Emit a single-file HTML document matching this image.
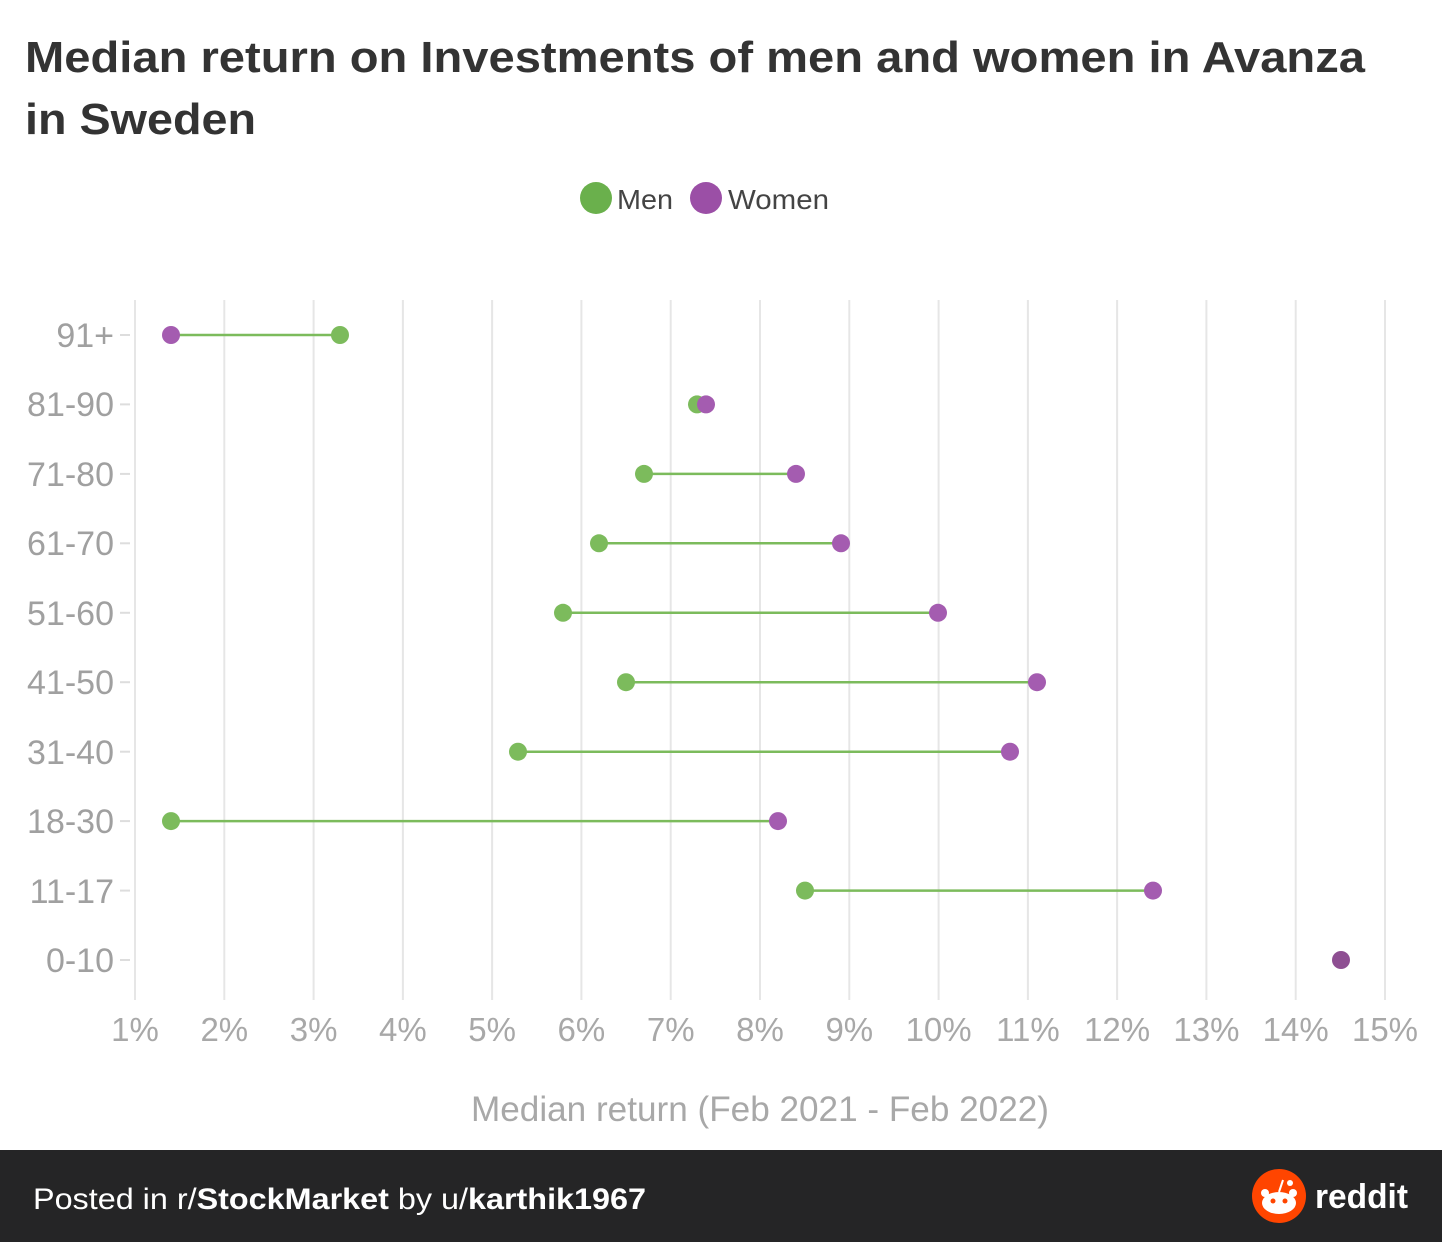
<!DOCTYPE html>
<html><head><meta charset="utf-8"><style>
html,body{margin:0;padding:0;background:#fff;}
svg{display:block;}
</style></head><body>
<svg width="1442" height="1242" viewBox="0 0 1442 1242" xmlns="http://www.w3.org/2000/svg" font-family="Liberation Sans, sans-serif">
<rect width="1442" height="1150" fill="#fff"/>
<text x="25" y="72" font-size="44" font-weight="bold" fill="#333" textLength="1340" lengthAdjust="spacingAndGlyphs">Median return on Investments of men and women in Avanza</text>
<text x="25" y="134" font-size="44" font-weight="bold" fill="#333" textLength="231" lengthAdjust="spacingAndGlyphs">in Sweden</text>
<circle cx="596" cy="198" r="16" fill="#6ab04c"/>
<text x="617" y="209" font-size="28" fill="#444" textLength="56" lengthAdjust="spacingAndGlyphs">Men</text>
<circle cx="706" cy="198" r="16" fill="#9b4fa6"/>
<text x="728" y="209" font-size="28" fill="#444" textLength="101" lengthAdjust="spacingAndGlyphs">Women</text>
<g stroke="#e6e6e6" stroke-width="2">
<line x1="135" y1="300" x2="135" y2="1000"/><line x1="224.3" y1="300" x2="224.3" y2="1000"/><line x1="313.6" y1="300" x2="313.6" y2="1000"/><line x1="402.9" y1="300" x2="402.9" y2="1000"/><line x1="492.1" y1="300" x2="492.1" y2="1000"/><line x1="581.4" y1="300" x2="581.4" y2="1000"/><line x1="670.7" y1="300" x2="670.7" y2="1000"/><line x1="760" y1="300" x2="760" y2="1000"/><line x1="849.3" y1="300" x2="849.3" y2="1000"/><line x1="938.6" y1="300" x2="938.6" y2="1000"/><line x1="1027.9" y1="300" x2="1027.9" y2="1000"/><line x1="1117.1" y1="300" x2="1117.1" y2="1000"/><line x1="1206.4" y1="300" x2="1206.4" y2="1000"/><line x1="1295.7" y1="300" x2="1295.7" y2="1000"/><line x1="1385" y1="300" x2="1385" y2="1000"/>
</g>
<g stroke="#ddd" stroke-width="2">
<line x1="120" y1="335" x2="130" y2="335"/><line x1="120" y1="404.4" x2="130" y2="404.4"/><line x1="120" y1="473.9" x2="130" y2="473.9"/><line x1="120" y1="543.3" x2="130" y2="543.3"/><line x1="120" y1="612.8" x2="130" y2="612.8"/><line x1="120" y1="682.2" x2="130" y2="682.2"/><line x1="120" y1="751.7" x2="130" y2="751.7"/><line x1="120" y1="821.1" x2="130" y2="821.1"/><line x1="120" y1="890.6" x2="130" y2="890.6"/><line x1="120" y1="960" x2="130" y2="960"/>
</g>
<g font-size="34" fill="#a0a0a0" text-anchor="end">
<text x="114" y="347">91+</text><text x="114" y="416">81-90</text><text x="114" y="486">71-80</text><text x="114" y="555">61-70</text><text x="114" y="625">51-60</text><text x="114" y="694">41-50</text><text x="114" y="764">31-40</text><text x="114" y="833">18-30</text><text x="114" y="903">11-17</text><text x="114" y="972">0-10</text>
</g>
<g font-size="33" fill="#a8a8a8" text-anchor="middle">
<text x="135" y="1041">1%</text><text x="224.3" y="1041">2%</text><text x="313.6" y="1041">3%</text><text x="402.9" y="1041">4%</text><text x="492.1" y="1041">5%</text><text x="581.4" y="1041">6%</text><text x="670.7" y="1041">7%</text><text x="760" y="1041">8%</text><text x="849.3" y="1041">9%</text><text x="938.6" y="1041">10%</text><text x="1027.9" y="1041">11%</text><text x="1117.1" y="1041">12%</text><text x="1206.4" y="1041">13%</text><text x="1295.7" y="1041">14%</text><text x="1385" y="1041">15%</text>
</g>
<rect x="1418" y="1010" width="24" height="40" fill="#fff"/>
<text x="471" y="1121" font-size="35" fill="#a8a8a8" textLength="578" lengthAdjust="spacingAndGlyphs">Median return (Feb 2021 - Feb 2022)</text>
<g stroke="#7cbb5c" stroke-width="2.5">
<line x1="171" y1="335" x2="340" y2="335"/><line x1="697" y1="404.4" x2="706" y2="404.4"/><line x1="644" y1="473.9" x2="796" y2="473.9"/><line x1="599" y1="543.3" x2="841" y2="543.3"/><line x1="563" y1="612.8" x2="938" y2="612.8"/><line x1="626" y1="682.2" x2="1037" y2="682.2"/><line x1="518" y1="751.7" x2="1010" y2="751.7"/><line x1="171" y1="821.1" x2="778" y2="821.1"/><line x1="805" y1="890.6" x2="1153" y2="890.6"/>
</g>
<g fill="#7cbb5c">
<circle cx="340" cy="335" r="9"/><circle cx="697" cy="404.4" r="9"/><circle cx="644" cy="473.9" r="9"/><circle cx="599" cy="543.3" r="9"/><circle cx="563" cy="612.8" r="9"/><circle cx="626" cy="682.2" r="9"/><circle cx="518" cy="751.7" r="9"/><circle cx="171" cy="821.1" r="9"/><circle cx="805" cy="890.6" r="9"/>
</g>
<g fill="#a45cb0">
<circle cx="171" cy="335" r="9"/><circle cx="706" cy="404.4" r="9"/><circle cx="796" cy="473.9" r="9"/><circle cx="841" cy="543.3" r="9"/><circle cx="938" cy="612.8" r="9"/><circle cx="1037" cy="682.2" r="9"/><circle cx="1010" cy="751.7" r="9"/><circle cx="778" cy="821.1" r="9"/><circle cx="1153" cy="890.6" r="9"/>
</g>
<circle cx="1341" cy="960" r="9" fill="#8e4f92"/>
<rect x="0" y="1150" width="1442" height="92" fill="#252526"/>
<text x="33" y="1209" font-size="30" fill="#fff" textLength="613" lengthAdjust="spacingAndGlyphs">Posted in r/<tspan font-weight="bold">StockMarket</tspan> by u/<tspan font-weight="bold">karthik1967</tspan></text>
<circle cx="1279" cy="1196" r="27" fill="#ff4500"/>
<ellipse cx="1279" cy="1203" rx="17" ry="11" fill="#fff"/>
<circle cx="1265" cy="1193" r="4" fill="#fff"/><circle cx="1293" cy="1193" r="4" fill="#fff"/>
<circle cx="1273" cy="1201" r="2.5" fill="#ff4500"/><circle cx="1285" cy="1201" r="2.5" fill="#ff4500"/>
<line x1="1279" y1="1192" x2="1283" y2="1180" stroke="#fff" stroke-width="2"/><circle cx="1290" cy="1183" r="3" fill="#fff"/>
<text x="1315" y="1208" font-size="34" font-weight="bold" fill="#fff" textLength="93" lengthAdjust="spacingAndGlyphs">reddit</text>
</svg>
</body></html>
